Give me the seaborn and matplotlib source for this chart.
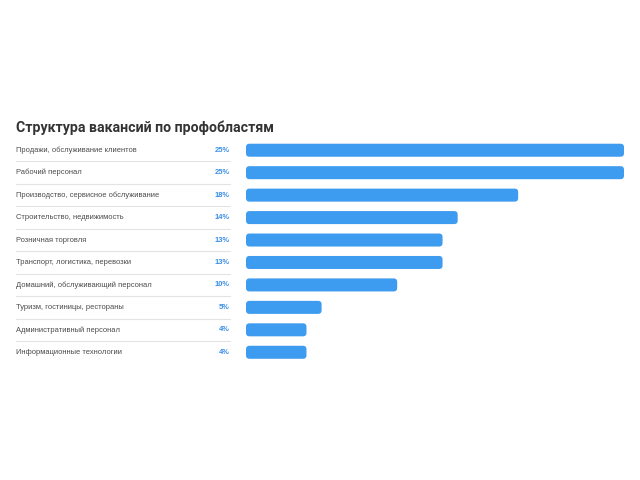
import matplotlib
matplotlib.use("Agg")
import matplotlib.pyplot as plt
import matplotlib.transforms as mtransforms
from matplotlib.patches import FancyBboxPatch
import seaborn as sns
import pandas as pd

categories = [
    "Продажи, обслуживание клиентов",
    "Рабочий персонал",
    "Производство, сервисное обслуживание",
    "Строительство, недвижимость",
    "Розничная торговля",
    "Транспорт, логистика, перевозки",
    "Домашний, обслуживающий персонал",
    "Туризм, гостиницы, рестораны",
    "Административный персонал",
    "Информационные технологии",
]
values = [25, 25, 18, 14, 13, 13, 10, 5, 4, 4]
pct_labels = ["25%", "25%", "18%", "14%", "13%", "13%", "10%", "5%", "4%", "4%"]
title = "Структура вакансий по профобластям"

df = pd.DataFrame({"cat": categories, "val": values})

sns.set_theme(style="white")
plt.rcParams["font.family"] = ["Liberation Sans", "DejaVu Sans"]

W, H = 640, 480
fig = plt.figure(figsize=(6.4, 4.8), dpi=100)
fig.patch.set_facecolor("white")

top_px, bot_px = 139.0, 363.5
left_px, right_px = 246, 624
ax = fig.add_axes([left_px / W, 1 - bot_px / H, (right_px - left_px) / W, (bot_px - top_px) / H])

bar_color = "#3d9cf0"
sns.barplot(data=df, x="val", y="cat", orient="h", color=bar_color, width=0.58,
            saturation=1, ax=ax)
ax.set_xlim(0, 25)
ax.set_ylim(len(categories) - 0.5, -0.5)
ax.set_axis_off()

# round the bar corners (keep geometry from seaborn's patches)
x_per_px = 25 / (right_px - left_px)
y_per_px = len(categories) / (bot_px - top_px)
radius_px = 3.5
for p in list(ax.patches):
    x0, y0 = p.get_x(), p.get_y()
    w, h = p.get_width(), p.get_height()
    fb = FancyBboxPatch((x0, y0), w, h,
                        boxstyle=f"round,pad=0,rounding_size={radius_px * x_per_px}",
                        mutation_aspect=y_per_px / x_per_px,
                        facecolor=bar_color, edgecolor="none", clip_on=False)
    p.remove()
    ax.add_patch(fb)

trans = mtransforms.blended_transform_factory(fig.transFigure, ax.transData)
for i, (c, lab) in enumerate(zip(categories, pct_labels)):
    ax.text(16 / W, i, c, transform=trans, ha="left", va="center",
            fontsize=5.4, color="#4a4a4a")
    ax.text(230 / W, i, lab, transform=trans, ha="right", va="center",
            fontsize=5.4, color="#3a8ee6", fontweight="bold")
    if i < len(categories) - 1:
        ax.plot([16 / W, 230 / W], [i + 0.5, i + 0.5], transform=trans,
                color="#e3e3e3", lw=0.8, clip_on=False)

fig.text(16 / W, 1 - 128 / H, title, ha="left", va="center", fontsize=10.2,
         fontweight="bold", color="#333333", family=["Roboto", "DejaVu Sans"])

fig.savefig("out.png", dpi=100, facecolor="white")
